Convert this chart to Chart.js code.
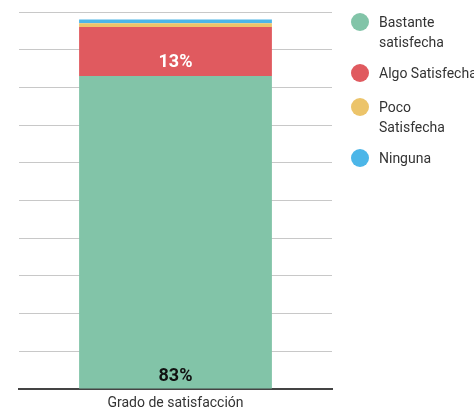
<!DOCTYPE html>
<html>
<head>
<meta charset="utf-8">
<script src="https://cdn.jsdelivr.net/npm/chart.js@4"></script>
<style>
  body { margin: 0; background: #fff; font-family: Roboto, sans-serif; }
  #wrap { position: relative; width: 474px; height: 409px; }
  #legend { position: absolute; left: 351px; top: 0; color: #333; font-size: 14px; line-height: 20px; }
  .item { position: absolute; left: 0; width: 130px; }
  .dot { position: absolute; left: 0; width: 18px; height: 18px; border-radius: 50%; }
  .txt { position: absolute; left: 28px; white-space: nowrap; }
</style>
</head>
<body>
<div id="wrap">
  <canvas id="chart" width="474" height="409"></canvas>
  <div id="legend"></div>
</div>
<script>
const categories = ['Grado de satisfacción'];
const seriesNames = [['Bastante', 'satisfecha'], ['Algo Satisfecha'], ['Poco', 'Satisfecha'], ['Ninguna']];
const seriesValues = [83, 13, 1, 1];
const seriesColors = ['#82c4a8', '#e05a5f', '#ecc46a', '#4cb6e8'];
const shownLabels = ['83%', '13%', '', ''];

// legend, drawn as html because of the two-line names
const legendTops = [12, 63, 97, 148];
const legend = document.getElementById('legend');
seriesNames.forEach((name, i) => {
    const item = document.createElement('div');
    item.className = 'item';
    item.style.top = legendTops[i] + 'px';
    item.innerHTML = '<div class="dot" style="top:1px;background:' + seriesColors[i] + '"></div>' +
        '<div class="txt" style="top:0px">' + name.join('<br>') + '</div>';
    legend.appendChild(item);
});

const barLabels = {
    id: 'barLabels',
    afterDatasetsDraw(chart) {
        const ctx = chart.ctx;
        ctx.save();
        ctx.font = 'bold 18px Roboto';
        ctx.textAlign = 'center';
        ctx.textBaseline = 'middle';
        chart.data.datasets.forEach((ds, i) => {
            if (!shownLabels[i]) return;
            const bar = chart.getDatasetMeta(i).data[0];
            if (i === 0) {
                ctx.fillStyle = '#111';
                ctx.fillText(shownLabels[i], bar.x, bar.base - 12);
            } else {
                ctx.fillStyle = '#fff';
                ctx.fillText(shownLabels[i], bar.x, (bar.y + bar.base) / 2 + 11);
            }
        });
        ctx.restore();
    }
};

new Chart(document.getElementById('chart'), {
    type: 'bar',
    data: {
        labels: categories,
        datasets: seriesValues.map((v, i) => ({
            label: seriesNames[i].join(' '),
            data: [v],
            backgroundColor: seriesColors[i],
            borderWidth: 0,
            categoryPercentage: 1,
            barPercentage: 0.616
        }))
    },
    options: {
        responsive: false,
        animation: false,
        layout: { padding: { left: 19, right: 142, top: 12, bottom: -8 } },
        plugins: { legend: { display: false }, tooltip: { enabled: false } },
        scales: {
            x: {
                stacked: true,
                grid: { display: false, drawTicks: false },
                border: { color: '#444', width: 2 },
                ticks: { color: '#333', font: { family: 'Roboto', size: 14, lineHeight: 1 }, padding: 7 }
            },
            y: {
                stacked: true,
                min: 0,
                max: 100,
                ticks: { display: false, stepSize: 10 },
                grid: { color: '#c8c8c8', drawTicks: false },
                border: { display: false }
            }
        }
    },
    plugins: [barLabels]
});
</script>
</body>
</html>
